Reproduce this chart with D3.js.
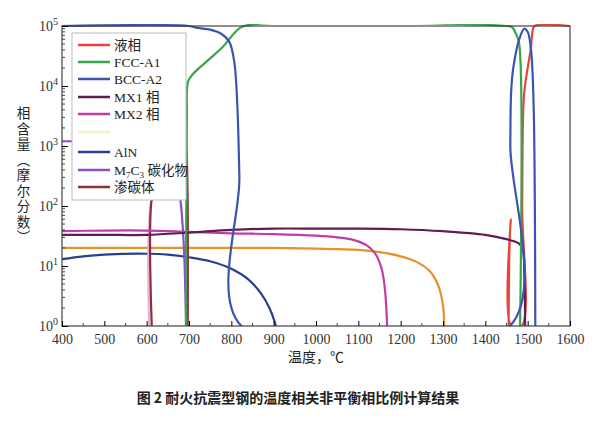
<!DOCTYPE html><html><head><meta charset="utf-8">
<script src="https://cdn.jsdelivr.net/npm/d3@7"></script>
<style>body{margin:0;background:#fff}text{font-family:"Liberation Serif","Noto Sans CJK SC",serif}</style></head>
<body><svg id="c" width="595" height="424"></svg>
<script>
const xTicks=[400,500,600,700,800,900,1000,1100,1200,1300,1400,1500,1600];
const yTicks=[1,10,100,1000,10000,100000];
const legendNames=["液相","FCC-A1","BCC-A2","MX1 相","MX2 相","","AlN","M7C3 碳化物","渗碳体"];
const liquid=[[1455,1],[1457,20],[1460,60],[1461,1],[1486,1],[1487,100],[1489,3000],[1492,8000],[1500,20000],[1507,40000],[1512,85000],[1516,100000],[1600,100000]];
const fcc=[[693,1],[695,3000],[698,12000],[710,16000],[740,25000],[780,45000],[810,80000],[830,100000],[1450,100000],[1462,97000],[1472,75000],[1480,50000],[1482,1]];
const bcc=[[400,100000],[700,100000],[720,93000],[750,87000],[775,75000],[795,55000],[807,25000],[814,5000],[819,300],[824,1],[1458,1],[1459,1000],[1461,8000],[1466,20000],[1480,60000],[1492,90000],[1500,80000],[1508,40000],[1514,5000],[1517,100],[1518,1]];
const mx1=[[400,33],[500,33],[600,33],[700,36],[800,40],[900,42],[1000,42],[1100,42],[1200,41],[1300,38],[1400,33],[1450,28],[1478,24],[1488,20],[1492,8],[1494,1]];
const mx2=[[400,38],[500,39],[600,39],[700,37],[800,35],[900,34],[1000,32],[1050,30],[1090,27],[1120,22],[1140,16],[1155,9],[1163,4],[1168,1]];
const orangeC=[[400,20],[500,20],[600,20],[700,20],[800,20],[900,20],[1000,19.5],[1100,18.5],[1150,17],[1200,14.5],[1240,11.5],[1270,8],[1290,4.5],[1300,2.2],[1303,1]];
const aln=[[400,13],[450,14.5],[500,15.5],[600,16],[650,15.5],[700,14],[750,12],[800,9],[840,6],[870,3.5],[890,2],[902,1.2],[905,1]];
const m7c3=[[400,1200],[500,1200],[590,1200],[620,1000],[650,600],[670,300],[680,120],[688,20],[693,1]];
const cem=[[612,1],[613,150],[630,300],[660,600],[683,1000],[690,1250],[694,800],[697,1]];
const pale=[[606,1],[609,100],[630,300],[660,600],[685,900],[690,1000]];
const series=[
 {d:liquid,c:"#e8443c"},{d:orangeC,c:"#e8902a"},{d:aln,c:"#2a3f8f"},{d:pale,c:"#e5b0dd"},
 {d:m7c3,c:"#8a4fc2"},{d:cem,c:"#8c2f3a"},{d:mx2,c:"#c03ca8"},{d:mx1,c:"#5e1f4f"},
 {d:fcc,c:"#3aa64a"},{d:bcc,c:"#3a55b0"}];
const legendColors=["#e8443c","#3aa64a","#3a55b0","#5e1f4f","#c03ca8","#f2f2c8","#2a3f8f","#8a4fc2","#8c2f3a"];
const svg=d3.select("#c");
const L=62,R=570,T=26,B=326;
const x=d3.scaleLinear().domain([400,1600]).range([L,R]);
const y=d3.scaleLog().domain([1,100000]).range([B,T]);
const g=svg.append("g");
g.append("clipPath").attr("id","cp").append("rect").attr("x",L).attr("y",T-2).attr("width",R-L).attr("height",B-T+2);
const line=d3.line().x(d=>x(d[0])).y(d=>y(Math.max(d[1],1))).curve(d3.curveCatmullRom.alpha(0.5));
series.forEach(s=>g.append("path").attr("clip-path","url(#cp)").attr("d",line(s.d)).attr("fill","none").attr("stroke",s.c).attr("stroke-width",2.2));
g.append("rect").attr("x",L).attr("y",T).attr("width",R-L).attr("height",B-T).attr("fill","none").attr("stroke","#444").attr("stroke-width",1.2);
const xa=d3.axisBottom(x).tickValues(xTicks).tickSize(-5).tickFormat(d3.format("d"));
const xg=g.append("g").attr("transform",`translate(0,${B})`).call(xa);
xg.select(".domain").remove();
xg.selectAll("text").attr("font-size",14).attr("dy","1.1em").attr("fill","#333");
xg.selectAll(".mn").data(d3.range(450,1600,100)).enter().append("line").attr("x1",d=>x(d)).attr("x2",d=>x(d)).attr("y1",0).attr("y2",-3).attr("stroke","#444");
const ya=d3.axisLeft(y).tickValues(yTicks).tickSize(-6).tickFormat("");
const yg=g.append("g").attr("transform",`translate(${L},0)`).call(ya);
yg.select(".domain").remove();
const minors=[];for(let e=0;e<5;e++)for(let k=2;k<10;k++)minors.push(k*Math.pow(10,e));
yg.selectAll(".mn").data(minors).enter().append("line").attr("x1",0).attr("x2",3).attr("y1",d=>y(d)).attr("y2",d=>y(d)).attr("stroke","#444");
yTicks.forEach((v,i)=>{const t=g.append("text").attr("x",L-4).attr("y",y(v)+5).attr("text-anchor","end").attr("font-size",14).attr("fill","#333");
 t.append("tspan").text("10");t.append("tspan").attr("dy",-6).attr("font-size",10).text(i);});
const lg=g.append("g");
lg.append("rect").attr("x",72).attr("y",33).attr("width",114).attr("height",167).attr("fill","#fff").attr("stroke","#bbb");
const ly=[45,62,79,97,114,132,152,170,187];
legendNames.forEach((n,i)=>{
 lg.append("line").attr("x1",78).attr("x2",110).attr("y1",ly[i]).attr("y2",ly[i]).attr("stroke",legendColors[i]).attr("stroke-width",2.5);
 const t=lg.append("text").attr("x",114).attr("y",ly[i]+5).attr("font-size",13.5).attr("fill","#222");
 if(n.startsWith("M7C3")){t.append("tspan").text("M");t.append("tspan").attr("font-size",9).attr("dy",3).text("7");t.append("tspan").attr("dy",-3).text("C");t.append("tspan").attr("font-size",9).attr("dy",3).text("3");t.append("tspan").attr("dy",-3).text(" 碳化物");}
 else t.text(n);
});
svg.append("text").attr("x",316).attr("y",362).attr("text-anchor","middle").attr("font-size",14).attr("fill","#222").text("温度，℃");
svg.append("text").attr("transform","translate(22,176)").attr("style","writing-mode:vertical-rl;text-orientation:upright").attr("text-anchor","middle").attr("font-size",13.5).attr("letter-spacing",2).attr("fill","#222").text("相含量（摩尔分数）");
svg.append("text").attr("x",298).attr("y",403).attr("text-anchor","middle").attr("font-size",14).attr("font-weight","600").attr("fill","#222").attr("style",'font-family:"Noto Sans CJK SC"').text("图 2  耐火抗震型钢的温度相关非平衡相比例计算结果");
</script></body></html>
